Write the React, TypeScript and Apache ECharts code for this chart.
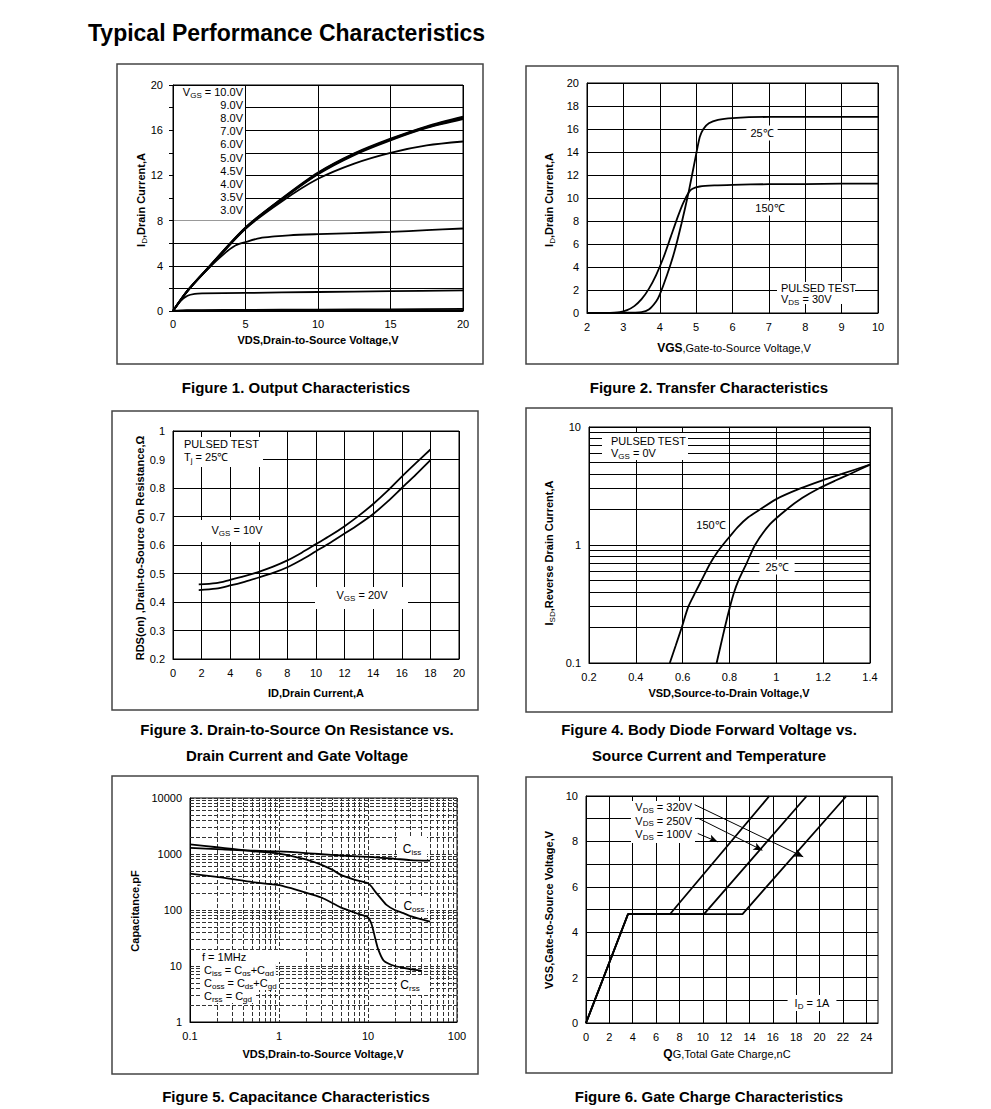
import React, { useEffect, useRef } from 'react';
import * as echarts from 'echarts';

const FONT = '"Liberation Sans", Arial, Helvetica, sans-serif';

// ---------- Figure 1: Output characteristics (VDS, ID) ----------
const f1X = [0, 1, 2.5, 5, 7.5, 10, 12.5, 15, 17.5, 20];
const f1Vgs10 = [0, 1.8, 3.95, 7.4, 9.95, 12.25, 13.95, 15.25, 16.35, 17.2];
const f1Vgs9 = [0, 1.8, 3.93, 7.37, 9.92, 12.2, 13.9, 15.2, 16.3, 17.12];
const f1Vgs8 = [0, 1.79, 3.9, 7.33, 9.88, 12.15, 13.86, 15.16, 16.25, 17.05];
const f1Vgs7 = [0, 1.78, 3.87, 7.3, 9.84, 12.1, 13.8, 15.1, 16.2, 16.98];
const f1Vgs6 = [0, 1.78, 3.87, 7.28, 9.7, 11.7, 13.05, 14.0, 14.65, 15.0];
const f1X5 = [0, 1, 2, 3, 3.7, 4.3, 5, 6, 7, 8, 10, 12.5, 15, 17.5, 20];
const f1Vgs5 = [0, 1.76, 3.2, 4.45, 5.25, 5.8, 6.1, 6.45, 6.6, 6.7, 6.8, 6.9, 7.0, 7.15, 7.3];
const f1XLow = [0, 0.5, 1, 1.5, 2, 5, 10, 15, 20];
const f1Vgs45 = [0, 0.85, 1.35, 1.52, 1.56, 1.6, 1.68, 1.75, 1.83];
const f1Vgs4 = [0, 0.05, 0.07, 0.08, 0.08, 0.1, 0.12, 0.15, 0.18];
const f1Vgs35 = [0, 0.01, 0.02, 0.02, 0.02, 0.03, 0.03, 0.04, 0.05];
const f1Vgs3 = [0, 0, 0, 0, 0, 0.01, 0.01, 0.01, 0.02];
const f1LegendVgs = ['10.0V', '9.0V', '8.0V', '7.0V', '6.0V', '5.0V', '4.5V', '4.0V', '3.5V', '3.0V'];

// ---------- Figure 2: Transfer characteristics (VGS, ID) ----------
const f2X25 = [2, 3, 3.5, 3.7, 3.9, 4.0, 4.2, 4.4, 4.6, 4.8, 5.0, 5.1, 5.2, 5.35, 5.6, 6, 7, 8, 9, 10];
const f2I25 = [0, 0.02, 0.08, 0.3, 1.0, 1.6, 3.3, 5.3, 7.8, 10.6, 13.8, 15.3, 16.0, 16.5, 16.8, 16.95, 17.05, 17.05, 17.05, 17.05];
const f2X150 = [2, 2.5, 2.9, 3.1, 3.3, 3.5, 3.7, 3.9, 4.1, 4.3, 4.5, 4.65, 4.8, 4.9, 5.1, 5.5, 6, 7, 8, 9, 10];
const f2I150 = [0, 0.01, 0.08, 0.25, 0.6, 1.2, 2.1, 3.3, 4.8, 6.6, 8.4, 9.6, 10.5, 10.8, 11.0, 11.1, 11.15, 11.2, 11.2, 11.25, 11.25];

// ---------- Figure 3: RDS(on) vs ID ----------
const f3X = [1.8, 3, 4, 5, 6, 7, 8, 9, 10, 11, 12, 13, 14, 15, 16, 17, 18];
const f3R10 = [0.462, 0.466, 0.478, 0.491, 0.506, 0.524, 0.546, 0.573, 0.603, 0.633, 0.666, 0.703, 0.744, 0.79, 0.84, 0.888, 0.935];
const f3R20 = [0.442, 0.447, 0.458, 0.471, 0.486, 0.502, 0.522, 0.548, 0.578, 0.608, 0.64, 0.673, 0.709, 0.752, 0.8, 0.848, 0.898];

// ---------- Figure 4: Body diode (VSD, ISD) ----------
const f4V150 = [0.545, 0.57, 0.596, 0.624, 0.655, 0.68, 0.718, 0.75, 0.785, 0.835, 0.88, 0.93, 1.0, 1.1, 1.2, 1.28, 1.4];
const f4I150 = [0.1, 0.14, 0.2, 0.3, 0.4, 0.5, 0.7, 0.88, 1.08, 1.42, 1.72, 2.0, 2.45, 3.0, 3.55, 4.0, 4.8];
const f4V25 = [0.745, 0.762, 0.78, 0.802, 0.82, 0.838, 0.873, 0.909, 0.973, 1.044, 1.11, 1.179, 1.25, 1.315, 1.4];
const f4I25 = [0.1, 0.14, 0.2, 0.3, 0.4, 0.5, 0.7, 1.0, 1.5, 2.0, 2.5, 3.0, 3.5, 4.0, 4.8];
const f4MinorY = [0.2, 0.3, 0.4, 0.5, 0.6, 0.7, 0.8, 0.9, 2, 3, 4, 5, 6, 7, 8, 9];

// ---------- Figure 5: Capacitance (VDS, pF) ----------
const f5XCiss = [0.1, 0.2, 0.3, 0.5, 1, 2, 3, 5, 10, 20, 30, 50];
const f5Ciss = [1290, 1220, 1180, 1150, 1110, 1040, 990, 940, 890, 820, 780, 760];
const f5XCoss = [0.1, 0.2, 0.3, 0.5, 1, 2, 3, 4, 5, 7, 10, 11, 12, 14, 16, 20, 25, 30, 40, 50];
const f5Coss = [1480, 1320, 1230, 1120, 1020, 800, 640, 520, 420, 350, 300, 260, 215, 160, 125, 100, 88, 78, 68, 62];
const f5XCrss = [0.1, 0.2, 0.3, 0.5, 1, 2, 3, 5, 8, 10, 11, 12, 13, 15, 20, 30, 40];
const f5Crss = [445, 390, 355, 315, 277, 205, 167, 110, 84, 74, 55, 32, 20, 12.5, 10, 8.8, 8.2];
const f5MinorX = [0.2, 0.3, 0.4, 0.5, 0.6, 0.7, 0.8, 0.9, 2, 3, 4, 5, 6, 7, 8, 9, 20, 30, 40, 50, 60, 70, 80, 90];
const f5MinorY = [2, 3, 4, 5, 6, 7, 8, 9, 20, 30, 40, 50, 60, 70, 80, 90, 200, 300, 400, 500, 600, 700, 800, 900, 2000, 3000, 4000, 5000, 6000, 7000, 8000, 9000];

// ---------- Figure 6: Gate charge (QG, VGS) ----------
const f6Q100 = [0, 3.6, 7.2, 15.7];
const f6Q250 = [0, 3.6, 10.1, 18.9];
const f6Q320 = [0, 3.6, 13.4, 22.3];
const f6Vgs = [0, 4.8, 4.8, 10];
const f6ArrowFrom = [[9.3, 9.62], [9.57, 9.03], [9.57, 8.35]];
const f6ArrowTo = [[18.6, 7.32], [15.1, 7.61], [11.27, 7.98]];

const pts = (xs: number[], ys: number[]) => xs.map((x, i) => [x, ys[i]]);

function curve(idx: number, xs: number[], ys: number[], extra: any = {}) {
  return {
    type: 'line',
    xAxisIndex: idx,
    yAxisIndex: idx,
    data: pts(xs, ys),
    symbol: 'none',
    showSymbol: false,
    smooth: 0.3,
    lineStyle: { color: '#000', width: 1.8 },
    z: 3,
    silent: true,
    ...extra,
  };
}

function gridMarks(data: any[], dashed: boolean) {
  return {
    silent: true,
    z: 1,
    symbol: ['none', 'none'],
    label: { show: false },
    emphasis: { disabled: true },
    lineStyle: { color: dashed ? '#333' : '#000', width: 1, type: dashed ? [4, 2] : 'solid', opacity: 1 },
    data,
  };
}

const lbl = (extra: any = {}) => ({ color: '#000', fontSize: 11, fontFamily: FONT, ...extra });
const plain = (v: number) => String(v);
const axLine = { show: true, onZero: false, lineStyle: { color: '#000', width: 1 } };
const split = (color: any = '#000', type: any = 'solid') => ({ show: true, lineStyle: { color, width: 1, type } });

const RICH = (size: number) => ({
  s: { fontSize: Math.round(size * 0.7), verticalAlign: 'bottom', lineHeight: size + 3 },
  b: { fontWeight: 'bold' },
  n: { fontWeight: 'normal' },
});

function T(x: number, y: number, text: string, o: any = {}) {
  const size = o.size || 11;
  const st: any = {
    text,
    fill: '#000',
    fontFamily: FONT,
    fontSize: size,
    fontWeight: o.bold ? 'bold' : 'normal',
    align: o.align || 'left',
    verticalAlign: 'middle',
    textAlign: o.align || 'left',
    textVerticalAlign: 'middle',
    rich: RICH(size),
  };
  if (o.bg) {
    st.backgroundColor = o.bg;
    st.padding = o.pad || [1, 3];
  }
  return { type: 'text', x, y, rotation: o.rot || 0, z: o.z ?? 6, silent: true, style: st };
}

function R(x: number, y: number, w: number, h: number, z = 2) {
  return { type: 'rect', z, silent: true, shape: { x, y, width: w, height: h }, style: { fill: '#fff', stroke: 'none' } };
}

function Box(x: number, y: number, w: number, h: number) {
  return { type: 'rect', z: 7, silent: true, shape: { x, y, width: w, height: h }, style: { fill: 'none', stroke: '#444', lineWidth: 1.5 } };
}

function buildOption(): any {
  const ROT = Math.PI / 2;
  const f1SplitColors = ['#000', '#000', '#000', '#000', '#999', '#000', '#000', '#000', '#000', '#000', '#000'];
  const f6SplitColors = Array.from({ length: 26 }, (_, i) => (i % 2 === 0 ? '#000' : 'rgba(0,0,0,0)'));

  const grids = [
    { left: 173, top: 85, width: 290, height: 226 },
    { left: 587, top: 83, width: 291, height: 230 },
    { left: 173, top: 431, width: 286, height: 228 },
    { left: 589, top: 427, width: 281, height: 236 },
    { left: 190, top: 798, width: 267, height: 224 },
    { left: 586, top: 796, width: 292, height: 227 },
  ].map((g) => ({ ...g, show: true, borderColor: '#000', borderWidth: 1, containLabel: false }));

  const xAxis = [
    { gridIndex: 0, type: 'value', min: 0, max: 20, interval: 5, axisLine: axLine, axisTick: { show: false }, axisLabel: lbl({ margin: 7 }), splitLine: split() },
    { gridIndex: 1, type: 'value', min: 2, max: 10, interval: 1, axisLine: axLine, axisTick: { show: false }, axisLabel: lbl({ margin: 8 }), splitLine: split() },
    { gridIndex: 2, type: 'value', min: 0, max: 20, interval: 2, axisLine: axLine, axisTick: { show: false }, axisLabel: lbl({ margin: 8 }), splitLine: split() },
    { gridIndex: 3, type: 'value', min: 0.2, max: 1.4, interval: 0.2, axisLine: axLine, axisTick: { show: false }, axisLabel: lbl({ margin: 8 }), splitLine: split() },
    { gridIndex: 4, type: 'log', logBase: 10, min: 0.1, max: 100, axisLine: axLine, axisTick: { show: false }, axisLabel: lbl({ margin: 8, formatter: plain }), splitLine: split('#333', [4, 2]) },
    { gridIndex: 5, type: 'value', min: 0, max: 25, interval: 1, axisLine: axLine, axisTick: { show: false }, axisLabel: lbl({ margin: 8, formatter: (v: number) => (v % 2 === 0 ? String(v) : '') }), splitLine: split(f6SplitColors) },
  ];

  const yAxis = [
    { gridIndex: 0, type: 'value', min: 0, max: 20, interval: 2, axisLine: axLine, axisTick: { show: true, length: 4, lineStyle: { color: '#000' } }, axisLabel: lbl({ margin: 10, formatter: (v: number) => (v % 4 === 0 ? String(v) : '') }), splitLine: split(f1SplitColors) },
    { gridIndex: 1, type: 'value', min: 0, max: 20, interval: 2, axisLine: axLine, axisTick: { show: false }, axisLabel: lbl({ margin: 8 }), splitLine: split() },
    { gridIndex: 2, type: 'value', min: 0.2, max: 1, interval: 0.1, axisLine: axLine, axisTick: { show: false }, axisLabel: lbl({ margin: 8 }), splitLine: split() },
    { gridIndex: 3, type: 'log', logBase: 10, min: 0.1, max: 10, axisLine: axLine, axisTick: { show: false }, axisLabel: lbl({ margin: 8, formatter: plain }), splitLine: split() },
    { gridIndex: 4, type: 'log', logBase: 10, min: 1, max: 10000, axisLine: axLine, axisTick: { show: false }, axisLabel: lbl({ margin: 8, formatter: plain }), splitLine: split('#333', [4, 2]) },
    { gridIndex: 5, type: 'value', min: 0, max: 10, interval: 1, axisLine: axLine, axisTick: { show: false }, axisLabel: lbl({ margin: 8, formatter: (v: number) => (v % 2 === 0 ? String(v) : '') }), splitLine: split() },
  ];

  const series: any[] = [
    // Fig 1
    curve(0, f1X, f1Vgs10),
    curve(0, f1X, f1Vgs9),
    curve(0, f1X, f1Vgs8),
    curve(0, f1X, f1Vgs7),
    curve(0, f1X, f1Vgs6),
    curve(0, f1X5, f1Vgs5),
    curve(0, f1XLow, f1Vgs45),
    curve(0, f1XLow, f1Vgs4),
    curve(0, f1XLow, f1Vgs35),
    curve(0, f1XLow, f1Vgs3),
    // Fig 2
    curve(1, f2X25, f2I25, { smooth: 0.2 }),
    curve(1, f2X150, f2I150, { smooth: 0.2 }),
    // Fig 3
    curve(2, f3X, f3R10),
    curve(2, f3X, f3R20),
    // Fig 4
    curve(3, f4V150, f4I150, { smooth: 0.2, markLine: gridMarks(f4MinorY.map((v) => ({ yAxis: v })), false) }),
    curve(3, f4V25, f4I25, { smooth: 0.2 }),
    // Fig 5
    curve(4, f5XCiss, f5Ciss, {
      markLine: gridMarks([...f5MinorX.map((v) => ({ xAxis: v })), ...f5MinorY.map((v) => ({ yAxis: v }))], true),
    }),
    curve(4, f5XCoss, f5Coss, { smooth: 0.2 }),
    curve(4, f5XCrss, f5Crss, { smooth: 0.2 }),
    // Fig 6
    curve(5, f6Q100, f6Vgs, {
      smooth: false,
      markLine: {
        silent: true,
        z: 5,
        symbol: ['none', 'arrow'],
        symbolSize: [6, 9],
        label: { show: false },
        emphasis: { disabled: true },
        lineStyle: { color: '#000', width: 1, type: 'solid' },
        data: f6ArrowFrom.map((p, i) => [{ coord: p }, { coord: f6ArrowTo[i] }]),
      },
    }),
    curve(5, f6Q250, f6Vgs, { smooth: false }),
    curve(5, f6Q320, f6Vgs, { smooth: false }),
  ];

  const g: any[] = [];
  // Title
  g.push(T(88, 33, 'Typical Performance Characteristics', { size: 23, bold: true }));
  // Frames
  g.push(Box(117, 64, 366, 300));
  g.push(Box(526, 66, 372, 298));
  g.push(Box(112, 411, 366, 299));
  g.push(Box(526, 408, 366, 304));
  g.push(Box(112, 776, 366, 298));
  g.push(Box(526, 777, 366, 296));
  // Captions
  const cap = { size: 15, bold: true, align: 'center' };
  g.push(T(296, 387, 'Figure 1. Output Characteristics', cap));
  g.push(T(709, 387, 'Figure 2. Transfer Characteristics', cap));
  g.push(T(297, 729, 'Figure 3. Drain-to-Source On Resistance vs.', cap));
  g.push(T(297, 755, 'Drain Current and Gate Voltage', cap));
  g.push(T(709, 729, 'Figure 4. Body Diode Forward Voltage vs.', cap));
  g.push(T(709, 755, 'Source Current and Temperature', cap));
  g.push(T(296, 1096, 'Figure 5. Capacitance Characteristics', cap));
  g.push(T(709, 1096, 'Figure 6. Gate Charge Characteristics', cap));
  // Axis titles
  g.push(T(141, 200, 'I{s|D},Drain Current,A', { bold: true, rot: ROT, align: 'center' }));
  g.push(T(318, 340, 'VDS,Drain-to-Source Voltage,V', { bold: true, align: 'center' }));
  g.push(T(549, 200, 'I{s|D},Drain Current,A', { bold: true, rot: ROT, align: 'center' }));
  g.push(T(734, 348, '{b|VGS},Gate-to-Source Voltage,V', { align: 'center' }));
  g.push(T(140, 548, 'RDS(on) ,Drain-to-Source On Resistance,Ω', { bold: true, rot: ROT, align: 'center' }));
  g.push(T(316, 693, 'ID,Drain Current,A', { bold: true, align: 'center' }));
  g.push(T(549, 553, 'I{s|SD},Reverse Drain Current,A', { bold: true, rot: ROT, align: 'center' }));
  g.push(T(729, 693, 'VSD,Source-to-Drain Voltage,V', { bold: true, align: 'center' }));
  g.push(T(135, 911, 'Capacitance,pF', { bold: true, rot: ROT, align: 'center' }));
  g.push(T(323, 1054, 'VDS,Drain-to-Source Voltage,V', { bold: true, align: 'center' }));
  g.push(T(549, 910, 'VGS,Gate-to-Source Voltage,V', { bold: true, rot: ROT, align: 'center' }));
  g.push(T(727, 1054, '{b|Q}G,Total Gate Charge,nC', { align: 'center' }));

  // Fig 1 legend
  g.push(R(174, 86, 71, 134));
  f1LegendVgs.forEach((s, i) => {
    g.push(T(243, 92 + i * 13.1, i === 0 ? 'V{s|GS} = ' + s : s, { align: 'right' }));
  });

  // Fig 2 labels
  g.push(T(762, 133, '25℃', { align: 'center', bg: '#fff', pad: [2, 4], z: 2 }));
  g.push(T(770, 208, '150℃', { align: 'center', bg: '#fff', pad: [2, 4], z: 2 }));
  g.push(R(777, 282, 78, 22));
  g.push(T(781, 288, 'PULSED TEST'));
  g.push(T(781, 299, 'V{s|DS} = 30V'));

  // Fig 3 labels
  g.push(R(174, 437, 89, 30));
  g.push(T(184, 444, 'PULSED TEST'));
  g.push(T(184, 457, 'T{s|j} = 25℃'));
  g.push(R(193, 520, 74, 22));
  g.push(T(237, 530, 'V{s|GS} = 10V', { align: 'center' }));
  g.push(R(315, 587, 93, 22));
  g.push(T(362, 595, 'V{s|GS} = 20V', { align: 'center' }));

  // Fig 4 labels
  g.push(R(602, 433, 86, 27));
  g.push(T(611, 441, 'PULSED TEST'));
  g.push(T(611, 453, 'V{s|GS} = 0V'));
  g.push(T(711, 525, '150℃', { align: 'center', bg: '#fff', pad: [2, 3], z: 2 }));
  g.push(T(777, 567, '25℃', { align: 'center', bg: '#fff', pad: [2, 6], z: 2 }));

  // Fig 5 labels
  g.push(R(397, 837, 30, 25));
  g.push(T(412, 849, 'C{s|iss}', { size: 12, align: 'center' }));
  g.push(R(398, 897, 29, 20));
  g.push(T(414, 906, 'C{s|oss}', { size: 12, align: 'center' }));
  g.push(R(397, 975, 33, 20));
  g.push(T(410, 985, 'C{s|rss}', { size: 12, align: 'center' }));
  g.push(R(198, 950, 102, 12));
  g.push(T(202, 957, 'f = 1MHz'));
  g.push(T(202, 970, 'C{s|iss} = C{s|gs}+C{s|gd}', { bg: '#fff', pad: [0, 2], z: 2 }));
  g.push(T(202, 983, 'C{s|oss} = C{s|ds}+C{s|gd}', { bg: '#fff', pad: [0, 2], z: 2 }));
  g.push(T(202, 996, 'C{s|rss} = C{s|gd}', { bg: '#fff', pad: [0, 2], z: 2 }));

  // Fig 6 labels
  g.push(R(631, 801, 64, 42));
  g.push(T(692, 807, 'V{s|DS} = 320V', { align: 'right' }));
  g.push(T(692, 820.5, 'V{s|DS} = 250V', { align: 'right' }));
  g.push(T(692, 834, 'V{s|DS} = 100V', { align: 'right' }));
  g.push(T(812, 1003, 'I{s|D} = 1A', { align: 'center', bg: '#fff', pad: [1, 7], z: 2 }));

  return {
    animation: false,
    backgroundColor: '#fff',
    textStyle: { fontFamily: FONT },
    grid: grids,
    xAxis,
    yAxis,
    series,
    graphic: { elements: g },
  };
}

export default function App() {
  const ref = useRef<HTMLDivElement>(null);
  useEffect(() => {
    const chart = echarts.init(ref.current as HTMLDivElement, null, { renderer: 'svg', width: 991, height: 1109 });
    chart.setOption(buildOption());
    return () => chart.dispose();
  }, []);
  return <div ref={ref} style={{ position: 'absolute', left: 0, top: 0, width: 991, height: 1109, background: '#fff' }} />;
}
